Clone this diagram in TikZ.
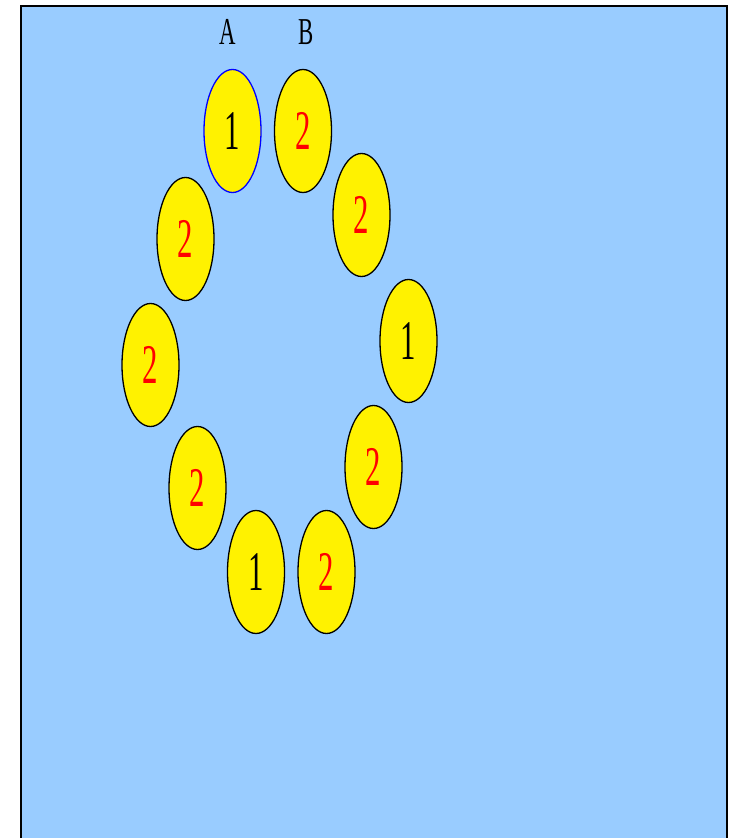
\documentclass[tikz,border=0pt]{standalone}
\usepackage{fontspec}
\setmainfont{Liberation Serif}
\usepackage{graphicx}
\usetikzlibrary{shapes.geometric}

\definecolor{skyfill}{RGB}{153,204,255}

\begin{document}
\begin{tikzpicture}[x=1pt, y=-1pt]
    % styles
    \tikzset{
      frame/.style     = {line width=2pt, draw=black},
      skyarea/.style   = {fill=skyfill, draw=none},
      seat/.style      = {ellipse, fill=yellow, draw=black, line width=1.3pt,
                          minimum width=57pt, minimum height=123pt, inner sep=0pt,
                          font=\fontsize{56}{60}\selectfont},
      firstseat/.style = {seat, draw=blue},
      headlabel/.style = {font=\fontsize{38}{40}\selectfont, inner sep=0pt}
    }
    \useasboundingbox (0,0) rectangle (731,838);

    % background:
    \path[skyarea] (21,6) rectangle (727,838);
    \draw[frame] (21,838) -- (21,6) -- (727,6) -- (727,838);

    % column labels:
    \node[headlabel] (labA) at (228,32) {\scalebox{0.6}[1]{A}};
    \node[headlabel] (labB) at (306,32) {\scalebox{0.6}[1]{B}};

    % ring of seats:
    \node[firstseat] (s1)  at (232.5,131) {\scalebox{0.55}[1]{1}};
    \node[seat]      (s2)  at (303,131)   {\scalebox{0.55}[1]{\color{red}2}};
    \node[seat]      (s3)  at (361.5,215) {\scalebox{0.55}[1]{\color{red}2}};
    \node[seat]      (s4)  at (408.5,341) {\scalebox{0.55}[1]{1}};
    \node[seat]      (s5)  at (373.5,467) {\scalebox{0.55}[1]{\color{red}2}};
    \node[seat]      (s6)  at (326.5,572) {\scalebox{0.55}[1]{\color{red}2}};
    \node[seat]      (s7)  at (256,572)   {\scalebox{0.55}[1]{1}};
    \node[seat]      (s8)  at (197.5,488) {\scalebox{0.55}[1]{\color{red}2}};
    \node[seat]      (s9)  at (150.5,365) {\scalebox{0.55}[1]{\color{red}2}};
    \node[seat]      (s10) at (185.5,239) {\scalebox{0.55}[1]{\color{red}2}};

  \end{tikzpicture}
\end{document}
